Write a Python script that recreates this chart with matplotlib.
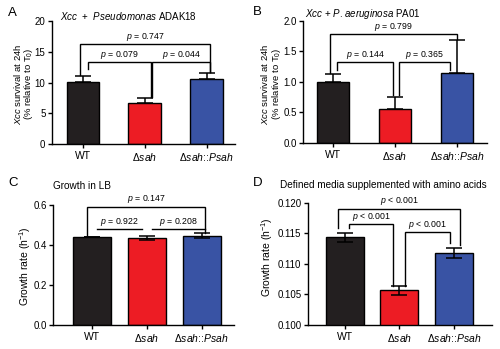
import numpy as np
import matplotlib
matplotlib.use("Agg")
import matplotlib.pyplot as plt

plt.rcParams['font.family'] = ['Liberation Sans', 'DejaVu Sans']
plt.rcParams['mathtext.fontset'] = 'custom'
plt.rcParams['mathtext.rm'] = 'Liberation Sans'
plt.rcParams['mathtext.it'] = 'Liberation Sans:italic'

# data
strains = ["WT", "Δ$sah$", "Δ$sah$::$Psah$"]
bar_colors = ["#231f20", "#ed1c24", "#3953a4"]

survival_adak18 = [10.1, 6.7, 10.55]
survival_adak18_err = [1.0, 0.85, 1.0]
survival_pa01 = [0.99, 0.56, 1.14]
survival_pa01_err = [0.14, 0.19, 0.54]
growth_lb = [0.440, 0.436, 0.447]
growth_lb_err = [0.002, 0.010, 0.012]
growth_aa = [0.11438, 0.10568, 0.11178]
growth_aa_err = [0.00076, 0.0007, 0.0008]

# brackets: (x_left, x_right, height, left leg end, right leg end, label)
brackets_a = [(0.09, 1.10, 13.3, 12.2, 7.7, "$p$ = 0.079"),
              (1.12, 2.06, 13.3, 7.7, 11.7, "$p$ = 0.044"),
              (-0.04, 2.06, 16.3, 11.3, 11.7, "$p$ = 0.747")]
brackets_b = [(0.07, 0.97, 1.33, 1.2, 0.78, "$p$ = 0.144"),
              (1.07, 1.88, 1.33, 0.78, 1.2, "$p$ = 0.365"),
              (-0.05, 1.99, 1.79, 1.15, 1.70, "$p$ = 0.799")]
brackets_c = [(0.09, 0.91, 0.48, 0.48, 0.48, "$p$ = 0.922"),
              (1.09, 2.06, 0.48, 0.48, 0.48, "$p$ = 0.208"),
              (-0.08, 2.06, 0.592, 0.443, 0.459, "$p$ = 0.147")]
brackets_d = [(0.08, 0.89, 0.11649, 0.11595, 0.10638, "$p$ < 0.001"),
              (1.10, 1.93, 0.11519, 0.10638, 0.1134, "$p$ < 0.001"),
              (-0.12, 2.12, 0.11908, 0.11584, 0.11314, "$p$ < 0.001")]


def draw_panel(ax, values, errors, width, upper_only, brackets, ylim, yticks, ytick_fmt, xlim):
    x = np.arange(len(values))
    ax.bar(x, values, width=width, color=bar_colors, edgecolor="black", linewidth=1.0, zorder=2)
    if upper_only:
        yerr = [np.zeros(len(errors)), errors]
    else:
        yerr = errors
    ax.errorbar(x, values, yerr=yerr, fmt="none", ecolor="black", elinewidth=1.1,
                capsize=6, capthick=1.1, zorder=3)
    span = ylim[1] - ylim[0]
    for x0, x1, h, l0, l1, label in brackets:
        ax.plot([x0, x0, x1, x1], [l0, h, h, l1], color="black", lw=1.0,
                solid_joinstyle="miter", clip_on=False, zorder=4)
        ax.text((x0 + x1) / 2, h + span * 0.01, label, ha="center", va="bottom", fontsize=6.3)
    ax.set_xlim(*xlim)
    ax.set_ylim(*ylim)
    ax.set_yticks(yticks)
    ax.set_yticklabels([ytick_fmt.format(t) for t in yticks], fontsize=7)
    ax.set_xticks(x)
    ax.set_xticklabels(strains, fontsize=7.5)
    ax.tick_params(axis="both", direction="out", length=3, width=1.0, pad=2)
    ax.tick_params(axis="y", pad=1.5)
    ax.spines["top"].set_visible(False)
    ax.spines["right"].set_visible(False)
    ax.spines["left"].set_linewidth(1.0)
    ax.spines["bottom"].set_linewidth(1.0)


fig = plt.figure(figsize=(5.0, 3.49), dpi=100)
ax_a = fig.add_axes([0.1034, 0.5874, 0.3666, 0.3524])
ax_b = fig.add_axes([0.606, 0.5911, 0.368, 0.3487])
ax_c = fig.add_axes([0.1066, 0.0688, 0.3614, 0.3438])
ax_d = fig.add_axes([0.6154, 0.0688, 0.3686, 0.3496])

draw_panel(ax_a, survival_adak18, survival_adak18_err, 0.52, True, brackets_a,
           (0, 20), [0, 5, 10, 15, 20], "{:g}", (-0.5, 2.46))
draw_panel(ax_b, survival_pa01, survival_pa01_err, 0.52, True, brackets_b,
           (0, 2.0), [0, 0.5, 1.0, 1.5, 2.0], "{:.1f}", (-0.48, 2.48))
draw_panel(ax_c, growth_lb, growth_lb_err, 0.69, False, brackets_c,
           (0, 0.6), [0, 0.2, 0.4, 0.6], "{:.1f}", (-0.7, 2.59))
draw_panel(ax_d, growth_aa, growth_aa_err, 0.70, False, brackets_d,
           (0.100, 0.120), [0.100, 0.105, 0.110, 0.115, 0.120], "{:.3f}", (-0.68, 2.7))

# panel letters and titles
W, H = 500.0, 349.0
for letter, px, py in [("A", 8, 13), ("B", 253, 12), ("C", 8, 183), ("D", 253, 183)]:
    fig.text(px / W, 1 - py / H, letter, fontsize=9.5, ha="left", va="center")
fig.text(60 / W, 1 - 16 / H, "$Xcc$  +  $Pseudomonas$ ADAK18", fontsize=7, ha="left", va="center")
fig.text(305 / W, 1 - 14 / H, "$Xcc$ + $P$. $aeruginosa$ PA01", fontsize=7, ha="left", va="center")
fig.text(53 / W, 1 - 186 / H, "Growth in LB", fontsize=7.2, ha="left", va="center")
fig.text(280 / W, 1 - 185 / H, "Defined media supplemented with amino acids", fontsize=7.2,
         ha="left", va="center")

# y labels
surv_label = "$Xcc$ survival at 24h\n(% relative to T$_0$)"
fig.text(23.5 / W, 1 - 84 / H, surv_label, rotation=90, fontsize=6.8, ha="center", va="center",
         multialignment="center", linespacing=0.9)
fig.text(271 / W, 1 - 84 / H, surv_label, rotation=90, fontsize=6.8, ha="center", va="center",
         multialignment="center", linespacing=0.9)
fig.text(25 / W, 1 - 266 / H, "Growth rate (h$^{-1}$)", rotation=90, fontsize=7.5,
         ha="center", va="center")
fig.text(267 / W, 1 - 257 / H, "Growth rate (h$^{-1}$)", rotation=90, fontsize=7.5,
         ha="center", va="center")

fig.savefig("out.png", dpi=100)
